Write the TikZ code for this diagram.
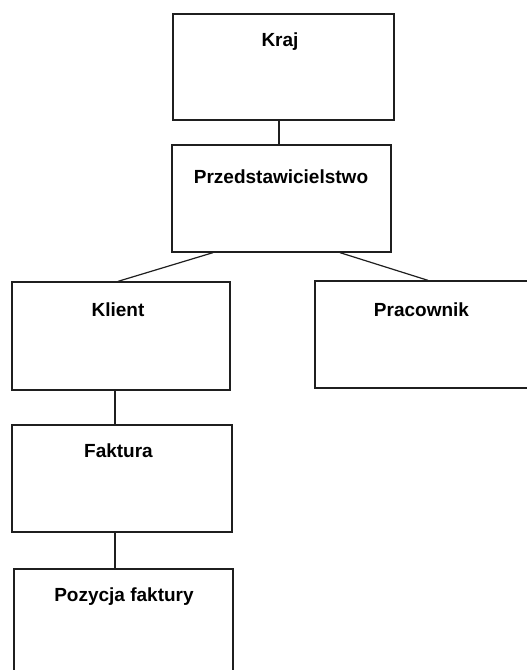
\documentclass[tikz,border=0pt]{standalone}
\usepackage{fontspec}
\setmainfont{Liberation Sans}
\begin{document}
\begin{tikzpicture}[x=1pt,y=-1pt,
  box/.style={draw=black!88, line width=1.3pt, rectangle, inner sep=0pt, fill=white},
  lbl/.style={anchor=base, inner sep=0pt, font=\fontsize{19}{22}\selectfont\bfseries},
  link/.style={draw=black!88, line width=1.2pt}]
  \useasboundingbox (0,0) rectangle (527,670);
  \clip (0,0) rectangle (527,670);
  \fill[white] (0,0) rectangle (527,670);

  % entity boxes
  \node[box, minimum width=221pt, minimum height=106pt] (kraj)   at (283.5,67) {};
  \node[box, minimum width=219pt, minimum height=107pt] (przed)  at (281.5,198.5) {};
  \node[box, minimum width=218pt, minimum height=108pt] (klient) at (121,336) {};
  \node[box, minimum width=225pt, minimum height=107pt] (prac)   at (427.5,334.5) {};
  \node[box, minimum width=220pt, minimum height=107pt] (fakt)   at (122,478.5) {};
  \node[box, minimum width=219pt, minimum height=121pt] (poz)    at (123.5,629.5) {};

  % entity names
  \node[lbl] (tkraj)   at (280,46.5)  {Kraj};
  \node[lbl] (tprzed)  at (281,183)   {Przedstawicielstwo};
  \node[lbl] (tklient) at (118,316)   {Klient};
  \node[lbl] (tprac)   at (421.5,316) {Pracownik};
  \node[lbl] (tfakt)   at (118.5,457) {Faktura};
  \node[lbl] (tpoz)    at (124,601)   {Pozycja faktury};

  % relationships
  \draw[link] ([xshift=-4.5pt]kraj.south) -- ([xshift=-2.5pt]przed.north);
  \draw[link] ([xshift=-68.5pt]przed.south) -- ([xshift=-3pt]klient.north);
  \draw[link] ([xshift=58.5pt]przed.south) -- ([xshift=0.5pt]prac.north);
  \draw[link] ([xshift=-6pt]klient.south) -- ([xshift=-7pt]fakt.north);
  \draw[link] ([xshift=-7pt]fakt.south) -- ([xshift=-8.5pt]poz.north);
\end{tikzpicture}
\end{document}
